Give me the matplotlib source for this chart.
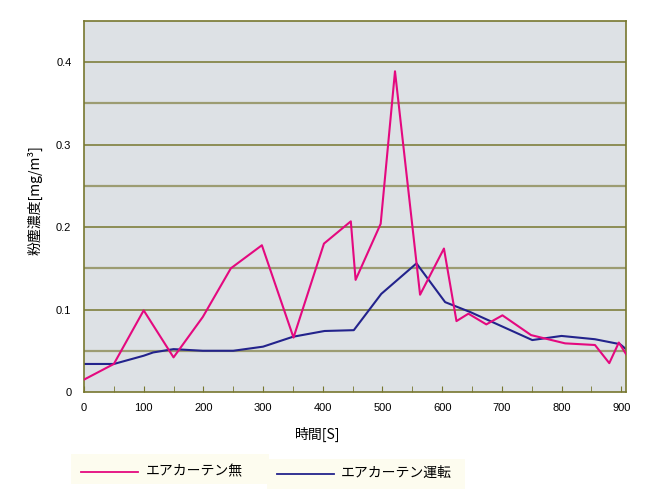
import matplotlib
matplotlib.use("Agg")
import matplotlib.pyplot as plt
from matplotlib.lines import Line2D
from matplotlib.patches import Rectangle

plt.rcParams['font.family'] = ['Noto Sans CJK JP', 'DejaVu Sans']

# Data
t_no = [0, 50, 100, 150, 199, 246, 298, 351, 402, 447, 455, 497, 521, 563, 603, 624, 644, 674, 701, 749, 806, 856, 880, 896, 908]
c_no = [0.015, 0.034, 0.099, 0.042, 0.091, 0.150, 0.178, 0.066, 0.180, 0.207, 0.136, 0.204, 0.389, 0.118, 0.174, 0.086, 0.095, 0.082, 0.093, 0.069, 0.059, 0.057, 0.035, 0.060, 0.046]
t_on = [0, 50, 100, 116, 150, 199, 250, 300, 350, 403, 452, 498, 557, 605, 647, 751, 800, 856, 898, 908]
c_on = [0.034, 0.034, 0.044, 0.048, 0.052, 0.050, 0.050, 0.055, 0.067, 0.074, 0.075, 0.119, 0.156, 0.109, 0.097, 0.063, 0.068, 0.064, 0.058, 0.052]
labels = ["エアカーテン無", "エアカーテン運転"]
colors = ["#e4097f", "#23238c"]
xticks = [0, 100, 200, 300, 400, 500, 600, 700, 800, 900]
xminor = [50, 150, 250, 350, 450, 550, 650, 750, 850]
yticks = [0, 0.1, 0.2, 0.3, 0.4]
ytick_labels = ["0", "0.1", "0.2", "0.3", "0.4"]

olive = "#77772f"
fig = plt.figure(figsize=(6.6, 5.0), dpi=100)
ax = fig.add_axes([84/660, 108/500, 542/660, 371/500])
ax.set_facecolor("#dde1e5")

# gridlines
for v in [0.05, 0.15, 0.25, 0.35]:
    ax.axhline(v, color="#9c9c72", lw=1.6, zorder=1)
for v in [0.1, 0.2, 0.3, 0.4]:
    ax.axhline(v, color=olive, lw=1.1, zorder=1)

ax.plot(t_no, c_no, color=colors[0], lw=1.5, zorder=3)
ax.plot(t_on, c_on, color=colors[1], lw=1.5, zorder=2)

for s in ax.spines.values():
    s.set_color(olive)
    s.set_linewidth(1.2)

ax.set_xticks(xticks)
ax.set_xticklabels([str(x) for x in xticks], family=['Liberation Sans', 'DejaVu Sans'], fontsize=8)
ax.set_xticks(xminor, minor=True)
ax.tick_params(axis='x', which='both', direction='in', length=4, color=olive, pad=8)
ax.set_yticks(yticks)
ax.set_yticklabels(ytick_labels, family=['Liberation Sans', 'DejaVu Sans'], fontsize=8)
ax.tick_params(axis='y', length=0, pad=9)
ax.set_xlim(0, 908)
ax.set_ylim(0, 0.45)

fig.text(35/660, 1 - 200/500, "粉塵濃度[mg/m³]", rotation=90, ha='center', va='center', fontsize=10)
fig.text(318/660, 1 - 434/500, "時間[S]", ha='center', va='center', fontsize=10)

# legend boxes
cream = "#fdfcef"
fig.patches.append(Rectangle((71/660, 1 - 484/500), 198/660, 30/500, transform=fig.transFigure, facecolor=cream, edgecolor='none'))
fig.patches.append(Rectangle((267/660, 1 - 489/500), 198/660, 30/500, transform=fig.transFigure, facecolor=cream, edgecolor='none'))
fig.lines.append(Line2D([81/660, 138/660], [1 - 472/500, 1 - 472/500], transform=fig.transFigure, color=colors[0], lw=1.3))
fig.lines.append(Line2D([277/660, 334/660], [1 - 474/500, 1 - 474/500], transform=fig.transFigure, color=colors[1], lw=1.3))
fig.text(146/660, 1 - 471/500, labels[0], ha='left', va='center', fontsize=10)
fig.text(341/660, 1 - 473/500, labels[1], ha='left', va='center', fontsize=10)

fig.savefig("out.png", dpi=100)
